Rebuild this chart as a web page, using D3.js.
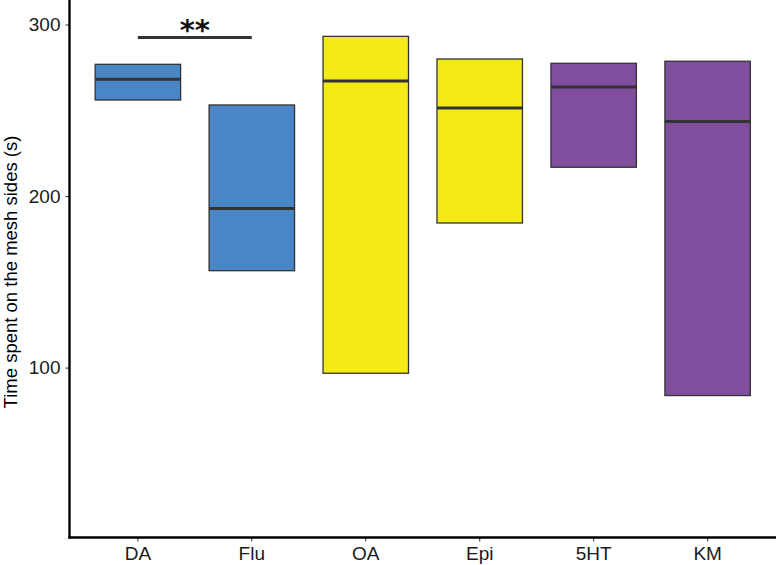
<!DOCTYPE html>
<html>
<head>
<meta charset="utf-8">
<script src="https://cdn.jsdelivr.net/npm/d3@7"></script>
<style>
  body { margin: 0; background: #fff; }
  svg { display: block; font-family: "Liberation Sans", Arial, Helvetica, sans-serif; }
</style>
</head>
<body>
<svg id="chart" width="776" height="565"></svg>
<script>
const categories = ["DA", "Flu", "OA", "Epi", "5HT", "KM"];
const lowerValues = [256.0, 156.5, 96.7, 184.3, 216.8, 83.7];
const medianValues = [268.1, 192.7, 267.1, 251.3, 263.6, 243.4];
const upperValues = [276.8, 253.1, 293.1, 279.9, 277.4, 278.6];
const groupColors = ["#4A86C5", "#4A86C5", "#F4EA18", "#F4EA18", "#7F4F9E", "#7F4F9E"];
const yTicks = [100, 200, 300];
const sigPair = ["DA", "Flu"];
const sigValue = 292.5;
const sigLabel = "**";

(function () {
const svg = d3.select("#chart");
const mLeft = 69.5, mRight = 776, mTop = 0, mBottom = 537.5;

const x = d3.scaleBand().domain(categories).range([mLeft, mRight])
  .paddingInner(0.25).paddingOuter(0.225);
const y = d3.scaleLinear().domain([0.95, 314.3]).range([mBottom, mTop]);

const data = categories.map((c, i) => ({
  cat: c, lo: lowerValues[i], med: medianValues[i], hi: upperValues[i], color: groupColors[i]
}));

const g = svg.append("g");
g.selectAll("rect.box").data(data).enter().append("rect")
  .attr("class", "box")
  .attr("x", d => x(d.cat))
  .attr("width", x.bandwidth())
  .attr("y", d => y(d.hi))
  .attr("height", d => y(d.lo) - y(d.hi))
  .attr("fill", d => d.color)
  .attr("stroke", "#333333")
  .attr("stroke-width", 1.3);

g.selectAll("line.med").data(data).enter().append("line")
  .attr("x1", d => x(d.cat))
  .attr("x2", d => x(d.cat) + x.bandwidth())
  .attr("y1", d => y(d.med))
  .attr("y2", d => y(d.med))
  .attr("stroke", "#333333")
  .attr("stroke-width", 3);

const cx = c => x(c) + x.bandwidth() / 2;
svg.append("line")
  .attr("x1", cx(sigPair[0])).attr("x2", cx(sigPair[1]))
  .attr("y1", y(sigValue)).attr("y2", y(sigValue))
  .attr("stroke", "#333333").attr("stroke-width", 3);
svg.append("text")
  .attr("x", (cx(sigPair[0]) + cx(sigPair[1])) / 2)
  .attr("y", 40)
  .attr("text-anchor", "middle")
  .attr("font-family", "DejaVu Sans, sans-serif")
  .attr("font-size", 29)
  .attr("font-weight", "bold")
  .attr("fill", "#111")
  .text(sigLabel);

const yAxis = d3.axisLeft(y).tickValues(yTicks).tickSize(4).tickPadding(5);
const ya = svg.append("g").attr("transform", `translate(${mLeft},0)`).call(yAxis);
ya.select(".domain").remove();
ya.selectAll(".tick line").attr("stroke", "#333").attr("stroke-width", 1);
ya.selectAll(".tick text").attr("font-size", 19).attr("fill", "#1a1a1a")
  .attr("font-family", "Liberation Sans, Arial, sans-serif");

const xAxis = d3.axisBottom(x).tickSize(4).tickPadding(5);
const xa = svg.append("g").attr("transform", `translate(0,${mBottom})`).call(xAxis);
xa.select(".domain").remove();
xa.selectAll(".tick line").attr("stroke", "#333").attr("stroke-width", 1);
xa.selectAll(".tick text").attr("font-size", 19).attr("fill", "#1a1a1a")
  .attr("font-family", "Liberation Sans, Arial, sans-serif");

svg.append("line").attr("x1", mLeft).attr("x2", mLeft).attr("y1", 0).attr("y2", mBottom + 1)
  .attr("stroke", "#000").attr("stroke-width", 2.4);
svg.append("line").attr("x1", mLeft - 1).attr("x2", mRight).attr("y1", mBottom).attr("y2", mBottom)
  .attr("stroke", "#000").attr("stroke-width", 2.4);

svg.append("text")
  .attr("transform", `translate(17,272) rotate(-90)`)
  .attr("text-anchor", "middle")
  .attr("font-size", 18.5)
  .attr("fill", "#000")
  .text("Time spent on the mesh sides (s)");
})();
</script>
</body>
</html>
